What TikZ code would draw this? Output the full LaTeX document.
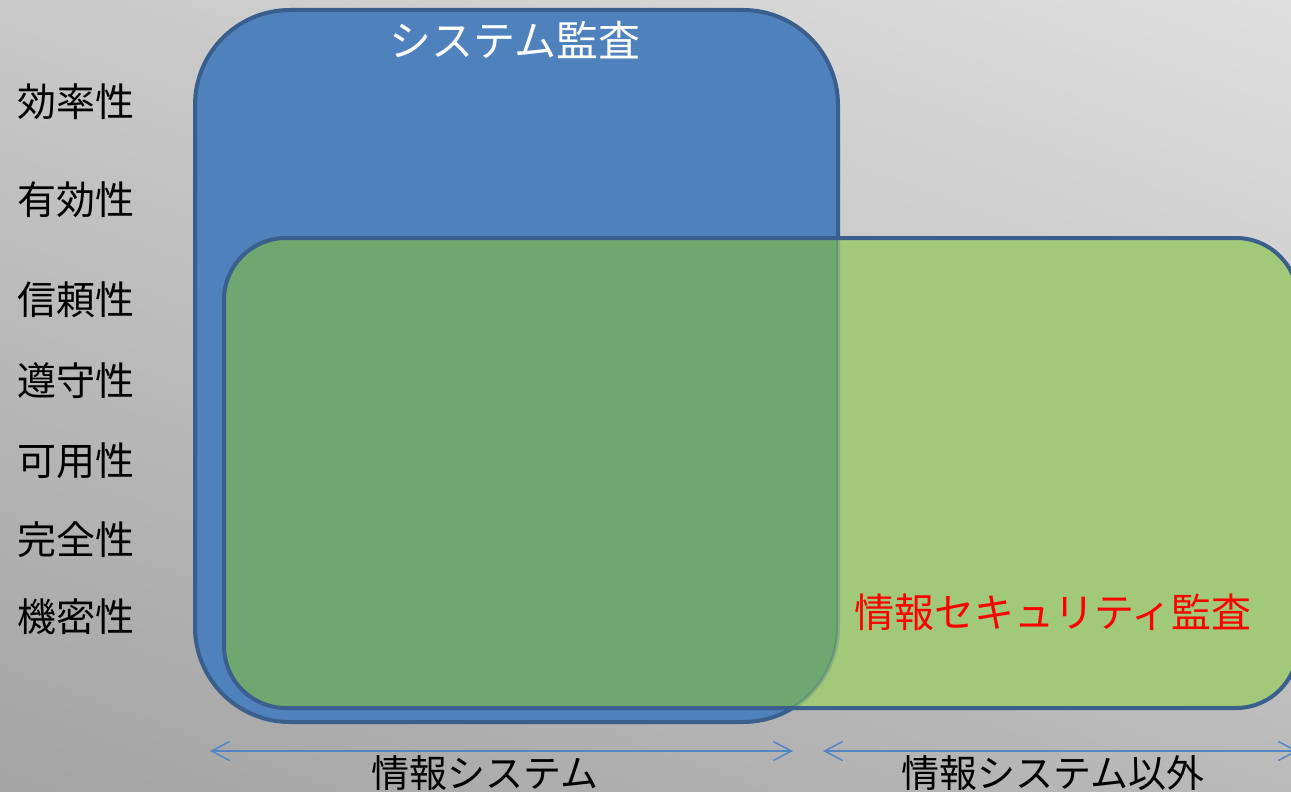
\documentclass[tikz,border=0pt]{standalone}
\usepackage{fontspec}
\setmainfont{Noto Sans CJK JP}
\usetikzlibrary{arrows.meta}
\definecolor{bgtop}{RGB}{226,226,226}
\definecolor{bgbot}{RGB}{160,160,160}
\definecolor{sysblue}{RGB}{79,129,189}
\definecolor{edgeblue}{RGB}{58,95,140}
\definecolor{secgreen}{RGB}{161,201,121}
\definecolor{mixgreen}{RGB}{110,168,112}
\definecolor{arrowblue}{RGB}{84,134,196}
\begin{document}
\begin{tikzpicture}[x=0.5pt,y=-0.5pt,
  attr/.style={anchor=west, inner sep=0pt, text=black, font=\fontsize{19.5pt}{22pt}\selectfont},
  boxtitle/.style={inner sep=0pt, font=\fontsize{21pt}{24pt}\selectfont},
  scopelabel/.style={inner sep=0pt, text=black, font=\fontsize{19pt}{22pt}\selectfont},
  rangearrow/.style={draw=arrowblue, line width=0.75pt, {Straight Barb[length=9pt,width=9.5pt]}-{Straight Barb[length=9pt,width=9.5pt]}},
  sysshape/.style={rounded corners=47.5pt},
  secshape/.style={rounded corners=31pt}]
\useasboundingbox (0,0) rectangle (1291,792);
\shade[top color=bgtop, bottom color=bgbot, shading angle=-20] (-200,-200) rectangle (1491,992);
% system audit box
\draw[sysshape, fill=sysblue, draw=edgeblue, line width=2pt] (195,10) rectangle (838,722);
% information security audit box
\fill[secshape, secgreen] (224,238) rectangle (1298,708);
\begin{scope}
  \clip[sysshape] (195,10) rectangle (838,722);
  \fill[secshape, mixgreen] (224,238) rectangle (1298,708);
\end{scope}
\begin{scope}
  \clip[secshape] (224,238) rectangle (1298,708);
  \draw[sysshape, draw=edgeblue, line width=2pt, draw opacity=0.22] (195,10) rectangle (838,722);
\end{scope}
\draw[secshape, draw=edgeblue, line width=2pt] (224,238) rectangle (1298,708);
% titles
\node[boxtitle, text=white] (sys) at (515,40) {システム監査};
\node[boxtitle, text=red, font=\fontsize{20pt}{23pt}\selectfont] (isec) at (1053,612) {情報セキュリティ監査};
% attributes
\node[attr] (eff) at (17,102) {効率性};
\node[attr] (vld) at (17,200) {有効性};
\node[attr] (rel) at (17,300) {信頼性};
\node[attr] (cmp) at (17,381) {遵守性};
\node[attr] (avl) at (17,461) {可用性};
\node[attr] (itg) at (17,540) {完全性};
\node[attr] (cnf) at (17,617) {機密性};
% ranges
\coordinate (r1l) at (210,751);
\coordinate (r1r) at (793,751);
\coordinate (r2l) at (823,751);
\coordinate (r2r) at (1298,751);
\draw[rangearrow] (r1l) -- (r1r);
\draw[rangearrow] (r2l) -- (r2r);
\node[scopelabel] (infosys) at (485,773) {情報システム};
\node[scopelabel] (noninfosys) at (1053,773) {情報システム以外};
\end{tikzpicture}
\end{document}
